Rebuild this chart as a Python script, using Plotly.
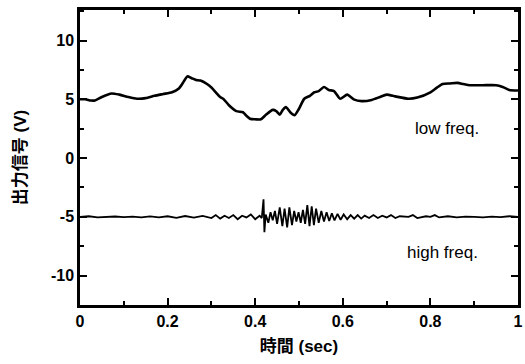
import plotly.graph_objects as go

# low-frequency trace (time in sec, output in V)
low_t = [0.0, 0.012, 0.025, 0.034, 0.05, 0.072, 0.09, 0.11, 0.13, 0.15, 0.17, 0.19, 0.21, 0.225,
         0.235, 0.245, 0.255, 0.265, 0.275, 0.29, 0.30, 0.31, 0.32, 0.327, 0.34, 0.357, 0.372,
         0.38, 0.388, 0.40, 0.413, 0.425, 0.44, 0.448, 0.456, 0.463, 0.47, 0.48, 0.49, 0.50,
         0.512, 0.525, 0.535, 0.545, 0.557, 0.568, 0.58, 0.594, 0.61, 0.625, 0.643, 0.666,
         0.685, 0.70, 0.72, 0.75, 0.77, 0.80, 0.815, 0.828, 0.845, 0.862, 0.875, 0.89, 0.92,
         0.95, 0.965, 0.98, 1.0]
low_v = [5.0, 5.0, 4.9, 4.9, 5.2, 5.5, 5.4, 5.2, 5.05, 5.1, 5.3, 5.45, 5.6, 5.9,
         6.4, 6.95, 6.8, 6.65, 6.6, 6.3, 6.0, 5.6, 5.2, 5.05, 4.5, 4.0, 3.9,
         3.6, 3.35, 3.3, 3.3, 3.7, 4.1, 4.0, 3.7, 4.1, 4.35, 3.9, 3.65, 4.2,
         5.05, 5.3, 5.6, 5.7, 6.05, 5.8, 5.7, 5.05, 5.4, 5.0, 4.85, 4.95,
         5.2, 5.4, 5.25, 5.05, 5.15, 5.6, 6.0, 6.3, 6.35, 6.4, 6.3, 6.2, 6.2,
         6.2, 6.05, 5.8, 5.75]

# high-frequency trace
high_t = [0.0, 0.02, 0.04, 0.06, 0.08, 0.10, 0.12, 0.14, 0.16, 0.18, 0.20, 0.22, 0.24, 0.26,
          0.28, 0.30, 0.31, 0.32, 0.33, 0.34, 0.35, 0.36, 0.37, 0.38, 0.39, 0.40, 0.41, 0.415,
          0.419, 0.421, 0.424, 0.43, 0.435, 0.44, 0.445, 0.45, 0.456, 0.462, 0.467, 0.473,
          0.478, 0.484, 0.489, 0.494, 0.499, 0.504, 0.509, 0.514, 0.519, 0.524, 0.529, 0.534,
          0.539, 0.545, 0.551, 0.557, 0.563, 0.569, 0.575, 0.581, 0.588, 0.595, 0.602, 0.61,
          0.618, 0.626, 0.634, 0.642, 0.65, 0.66, 0.67, 0.68, 0.69, 0.70, 0.71, 0.72, 0.73,
          0.75, 0.76, 0.77, 0.79, 0.80, 0.81, 0.82, 0.84, 0.86, 0.88, 0.90, 0.92, 0.94, 0.96,
          0.98, 1.0]
high_v = [-5.0, -4.95, -5.05, -5.0, -4.97, -5.03, -4.98, -5.05, -4.96, -5.04, -4.95, -5.08, -4.93, -5.07,
          -4.92, -5.1, -4.85, -5.15, -4.9, -5.1, -4.85, -5.2, -4.9, -5.05, -4.8, -5.2, -4.9, -5.1,
          -3.5, -6.3, -4.8, -5.5, -4.6, -5.3, -4.5, -5.6, -4.2, -5.8, -4.3, -5.9,
          -4.2, -5.7, -4.5, -5.4, -4.6, -5.5, -4.4, -5.6, -4.0, -5.8, -4.1, -5.7,
          -4.3, -5.5, -4.5, -5.4, -4.6, -5.35, -4.7, -5.3, -4.75, -5.25, -4.8, -5.2,
          -4.85, -5.15, -4.85, -5.15, -4.9, -5.1, -4.85, -5.1, -4.9, -5.05, -4.85, -5.1, -4.95,
          -5.0, -4.85, -5.1, -4.95, -5.0, -4.85, -5.05, -4.95, -5.05, -4.98, -5.0, -5.05, -4.98, -5.02,
          -4.95, -5.0]

x_ticks = [0, 0.2, 0.4, 0.6, 0.8, 1]
x_labels = ["0", "0.2", "0.4", "0.6", "0.8", "1"]
y_ticks = [-10, -5, 0, 5, 10]
y_labels = ["-10", "-5", "0", "5", "10"]

FONT = "Liberation Sans, Arial, Noto Sans CJK JP"

fig = go.Figure()
fig.add_trace(go.Scatter(x=low_t, y=low_v, mode="lines",
                         line=dict(color="black", width=2.6, shape="spline", smoothing=0.6),
                         showlegend=False, hoverinfo="skip"))
fig.add_trace(go.Scatter(x=high_t, y=high_v, mode="lines",
                         line=dict(color="black", width=1.8),
                         showlegend=False, hoverinfo="skip"))

fig.add_annotation(x=0.838, y=2.5, text="low freq.", showarrow=False,
                   font=dict(family=FONT, size=17, color="black"))
fig.add_annotation(x=0.828, y=-8.0, text="high freq.", showarrow=False,
                   font=dict(family=FONT, size=17, color="black"))

axis_common = dict(showgrid=False, zeroline=False, showline=True, linecolor="black",
                   linewidth=2.5, mirror="allticks", ticks="inside", ticklen=7,
                   tickwidth=2, tickcolor="black", ticklabeloverflow="allow",
                   tickfont=dict(family=FONT, size=16, color="black", weight="bold"))

fig.update_xaxes(range=[0, 1], tickvals=x_ticks, ticktext=x_labels,
                 minor=dict(dtick=0.1, ticks="inside", ticklen=4, tickwidth=2, tickcolor="black"),
                 title=dict(text="時間 (sec)", standoff=12,
                            font=dict(family=FONT, size=17, color="black", weight="bold")),
                 **axis_common)
fig.update_yaxes(range=[-12.5, 12.6], tickvals=y_ticks, ticktext=y_labels,
                 minor=dict(dtick=2.5, ticks="inside", ticklen=4, tickwidth=2, tickcolor="black"),
                 title=dict(text="出力信号 (V)", standoff=20,
                            font=dict(family=FONT, size=17, color="black", weight="bold")),
                 **axis_common)

fig.update_layout(width=525, height=364, margin=dict(l=80, r=2, t=10, b=59),
                  paper_bgcolor="white", plot_bgcolor="white")

fig.write_html("out.html")
